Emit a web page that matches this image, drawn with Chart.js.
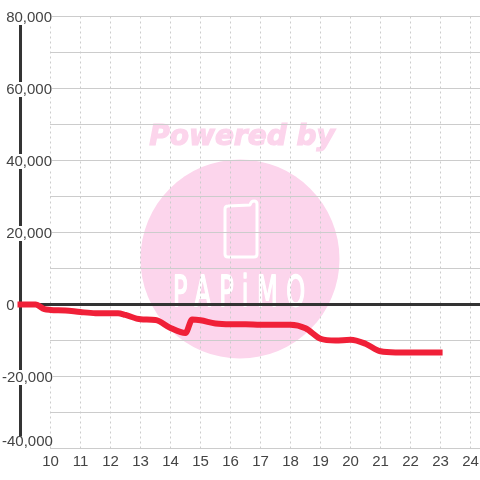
<!DOCTYPE html>
<html>
<head>
<meta charset="utf-8">
<style>
  html, body { margin: 0; padding: 0; background: #fff; }
  #wrap { width: 480px; height: 480px; }
</style>
<script src="https://cdn.jsdelivr.net/npm/chart.js@4"></script>
</head>
<body>
<div id="wrap"><canvas id="chart" width="480" height="480"></canvas></div>
<script>
// values
const hours = [8.9, 9.5, 9.8, 10, 10.5, 11, 11.5, 12, 12.25, 12.5, 13, 13.5, 14, 14.5, 14.72, 15, 15.5, 16, 16.5, 17, 17.5, 18, 18.5, 19, 19.5, 20, 20.5, 21, 21.5, 22, 22.5, 23.07];
const profit = [0, 0, -1300, -1500, -1650, -2100, -2400, -2400, -2400, -2900, -4100, -4300, -6500, -7900, -4200, -4400, -5300, -5500, -5500, -5600, -5600, -5600, -6600, -9500, -10000, -9800, -10900, -13000, -13300, -13300, -13300, -13300];
const xTicks = [10, 11, 12, 13, 14, 15, 16, 17, 18, 19, 20, 21, 22, 23, 24];
const xMin = 9.983;
const xMax = 24.317;
const axisX = [9, 9];
const axisY = [-36700, 80000];
const zeroX = [9, xMax];
const zeroY = [0, 0];

const toPoints = (xs, ys) => xs.map((x, i) => ({ x: x, y: ys[i] }));
const fontFamily = '"Liberation Sans", Arial, sans-serif';

// the pale logo sits behind the grid
const watermark = {
    id: 'watermark',
    beforeDraw(chart) {
        const c = chart.ctx;
        c.save();
        c.fillStyle = '#fcd5ec';
        c.beginPath();
        c.arc(240, 259, 99.5, 0, Math.PI * 2);
        c.fill();

        c.font = 'italic bold 28px "DejaVu Sans"';
        c.textAlign = 'center';
        c.textBaseline = 'alphabetic';
        c.strokeStyle = '#fcd5ec';
        c.lineWidth = 1.2;
        c.fillText('Powered by', 242, 145);
        c.strokeText('Powered by', 242, 145);

        c.strokeStyle = '#fff';
        c.lineWidth = 3;
        c.lineJoin = 'round';
        c.beginPath();
        c.moveTo(228, 206);
        c.lineTo(250, 205);
        c.quadraticCurveTo(251, 201, 254, 201);
        c.quadraticCurveTo(257, 201, 257, 204);
        c.lineTo(257, 254);
        c.quadraticCurveTo(257, 257, 254, 257);
        c.lineTo(228, 257);
        c.quadraticCurveTo(225, 257, 225, 254);
        c.lineTo(225, 209);
        c.quadraticCurveTo(225, 206, 228, 206);
        c.stroke();

        c.fillStyle = '#fff';
        c.lineWidth = 1;
        c.textAlign = 'left';
        c.translate(173, 306);
        c.scale(1, 1.75);
        c.font = '24px "DejaVu Sans"';
        c.letterSpacing = '8.5px';
        c.fillText('PAPiMO', 0, 0);
        c.strokeText('PAPiMO', 0, 0);
        c.restore();
    }
};

new Chart(document.getElementById('chart'), {
    type: 'line',
    data: {
        datasets: [
            {
                data: toPoints(hours, profit),
                borderColor: '#f02038',
                borderWidth: 6,
                borderCapStyle: 'butt',
                cubicInterpolationMode: 'monotone',
                pointRadius: 0,
                clip: false,
                order: 1
            },
            {
                data: toPoints(zeroX, zeroY),
                borderColor: '#333',
                borderWidth: 3,
                pointRadius: 0,
                clip: false,
                order: 2
            },
            {
                data: toPoints(axisX, axisY),
                borderColor: '#333',
                borderWidth: 3,
                pointRadius: 0,
                clip: false,
                order: 3
            }
        ]
    },
    options: {
        responsive: false,
        animation: false,
        layout: { padding: { top: 16.5, right: 0, bottom: 0, left: 2 } },
        plugins: {
            legend: { display: false },
            tooltip: { enabled: false }
        },
        scales: {
            x: {
                type: 'linear',
                bounds: 'data',
                // set here and not as min/max, so the line keeps its points left of the plot
                afterDataLimits(scale) {
                    scale.min = xMin;
                    scale.max = xMax;
                },
                afterBuildTicks(scale) {
                    scale.ticks = xTicks.map(v => ({ value: v }));
                },
                afterFit(scale) {
                    scale.height = 31.5;
                    scale.paddingLeft = 0;
                    scale.paddingRight = 0;
                },
                border: { display: false, dash: [2, 3] },
                grid: { color: '#ccc', lineWidth: 1, drawTicks: false },
                ticks: {
                    z: 2,
                    padding: 6,
                    maxRotation: 0,
                    autoSkip: false,
                    color: '#444',
                    font: { family: fontFamily, size: 15, lineHeight: 1 },
                    callback: v => String(v)
                }
            },
            y: {
                min: -40000,
                max: 80000,
                afterBuildTicks(scale) {
                    const vals = [];
                    for (let v = -40000; v <= 80000; v += 10000) vals.push({ value: v });
                    scale.ticks = vals;
                },
                afterFit(scale) {
                    scale.width = 48;
                    scale.paddingTop = 0;
                    scale.paddingBottom = 0;
                },
                border: { display: false },
                grid: { color: '#ccc', lineWidth: 1, drawTicks: false },
                ticks: {
                    z: 1,
                    // mirror keeps the labels from being clipped at the plot edge
                    mirror: true,
                    padding: -48,
                    crossAlign: 'near',
                    labelOffset: 1,
                    autoSkip: false,
                    color: '#444',
                    font: { family: fontFamily, size: 15, lineHeight: 1 },
                    showLabelBackdrop: ctx => ctx.index > 0,
                    backdropColor: '#fff',
                    backdropPadding: 0,
                    callback: v => {
                        if (v % 20000 !== 0) return '';
                        const s = v.toLocaleString('en-US');
                        // the lowest label sits above its line
                        if (v === -40000) return [s, ''];
                        // minus signs hang out to the left of the other labels
                        return v < 0 ? s : ' ' + s;
                    }
                }
            }
        }
    },
    plugins: [watermark]
});
</script>
</body>
</html>
